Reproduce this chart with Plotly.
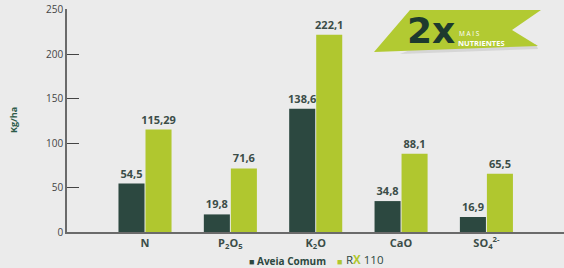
import plotly.graph_objects as go

categories = ["N", "P<sub>2</sub>O<sub>5</sub>", "K<sub>2</sub>O", "CaO", "SO<sub>4</sub><sup>2-</sup>"]
aveia = [54.5, 19.8, 138.6, 34.8, 16.9]
aveia_labels = ["54,5", "19,8", "138,6", "34,8", "16,9"]
rx110 = [115.29, 71.6, 222.1, 88.1, 65.5]
rx110_labels = ["115,29", "71,6", "222,1", "88,1", "65,5"]
y_ticks = [0, 50, 100, 150, 200, 250]

DARK = "#2c4840"
GREEN = "#b0c72f"
BG = "#ebebeb"
FONT = "Open Sans"
LBL = "#3b4d48"

W, H = 564, 268
PL, PR, PT, PB = 67, 564, 9, 232  # plot area in window pixels
L, T = PL, PT
R, B = W - PR, H - PB
PW, PH = PR - PL, PB - PT


def px(x, y):
    return (x - PL) / PW, (PB - y) / PH


fig = go.Figure()
fig.add_trace(go.Bar(
    x=list(range(len(categories))), y=aveia, name="Aveia Comum",
    marker=dict(color=DARK, line=dict(width=0)),
    text=aveia_labels, textposition="outside", cliponaxis=False, constraintext="none",
    textfont=dict(family=FONT, size=11, color=LBL, weight="bold"),
))
fig.add_trace(go.Bar(
    x=list(range(len(categories))), y=rx110, name="RX 110",
    marker=dict(color=GREEN, line=dict(width=0)),
    text=rx110_labels, textposition="outside", cliponaxis=False, constraintext="none",
    textfont=dict(family=FONT, size=11, color=LBL, weight="bold"),
))

# ribbon logo (decoration) in paper coords
pts = [(410, 10), (541, 10), (512, 30), (538, 46), (374, 52)]
shadow = [(420, 46), (536, 44), (538, 49), (400, 54)]


def path(points):
    s = ""
    for i, (x, y) in enumerate(points):
        a, b = px(x, y)
        s += ("M" if i == 0 else "L") + f"{a:.4f},{b:.4f} "
    return s + "Z"


shapes = [
    dict(type="path", xref="paper", yref="paper", path=path(shadow),
         fillcolor="#d6d6d6", line=dict(width=0), layer="above"),
    dict(type="path", xref="paper", yref="paper", path=path(pts),
         fillcolor="#b2ca32", line=dict(width=0), layer="above"),
]


def ann(x, y, text, size, color, xanchor="left", family=FONT, **kw):
    a, b = px(x, y)
    return dict(xref="paper", yref="paper", x=a, y=b, text=text, showarrow=False,
                font=dict(family=family, size=size, color=color),
                xanchor=xanchor, yanchor="middle", **kw)


annotations = [
    ann(431, 31, "<b>2x</b>", 36, "#1d3a2e", xanchor="center", family="DejaVu Sans"),
    ann(457, 33, "M A I S", 6.5, "white"),
    ann(456, 43, "<b>NUTRIENTES</b>", 7.5, "white"),
    ann(13, 120, "<b>Kg/ha</b>", 9, "#2c5a48", xanchor="center", textangle=-90),
    # legend
    ann(247, 261, "■", 9, DARK),
    ann(255, 261, "<b>Aveia Comum</b>", 10, DARK),
    ann(335, 261, "■", 9, GREEN),
    ann(344, 259, "<span style='color:#2c4840'>R</span><b>X</b><span style='color:#2c4840'> 110</span>",
        11.5, GREEN),
]

fig.update_layout(
    width=W, height=H,
    margin=dict(l=L, r=R, t=T, b=B, autoexpand=False),
    paper_bgcolor=BG, plot_bgcolor=BG,
    barmode="group", bargap=0.367, bargroupgap=0.036,
    font=dict(family=FONT, color="#444"),
    showlegend=False,
    shapes=shapes, annotations=annotations,
    xaxis=dict(range=[-0.914, 4.909], tickmode="array",
               tickvals=list(range(len(categories))), ticktext=categories,
               showgrid=False, zeroline=False, showline=True,
               linecolor="#6a6a6a", linewidth=1.5, ticks="",
               tickfont=dict(family=FONT, size=11, color=LBL, weight="bold")),
    yaxis=dict(range=[0, 251], tickvals=y_ticks, showgrid=False, zeroline=False,
               showline=True, linecolor="#6a6a6a", linewidth=1.5,
               ticks="inside", ticklen=12, tickcolor="#444", tickwidth=1,
               ticklabeloverflow="allow",
               tickfont=dict(family=FONT, size=10, color="#444")),
)

fig.write_html("out.html", config={"displayModeBar": False},
               post_script="document.body.style.margin='0';document.body.style.background='#ebebeb';")
